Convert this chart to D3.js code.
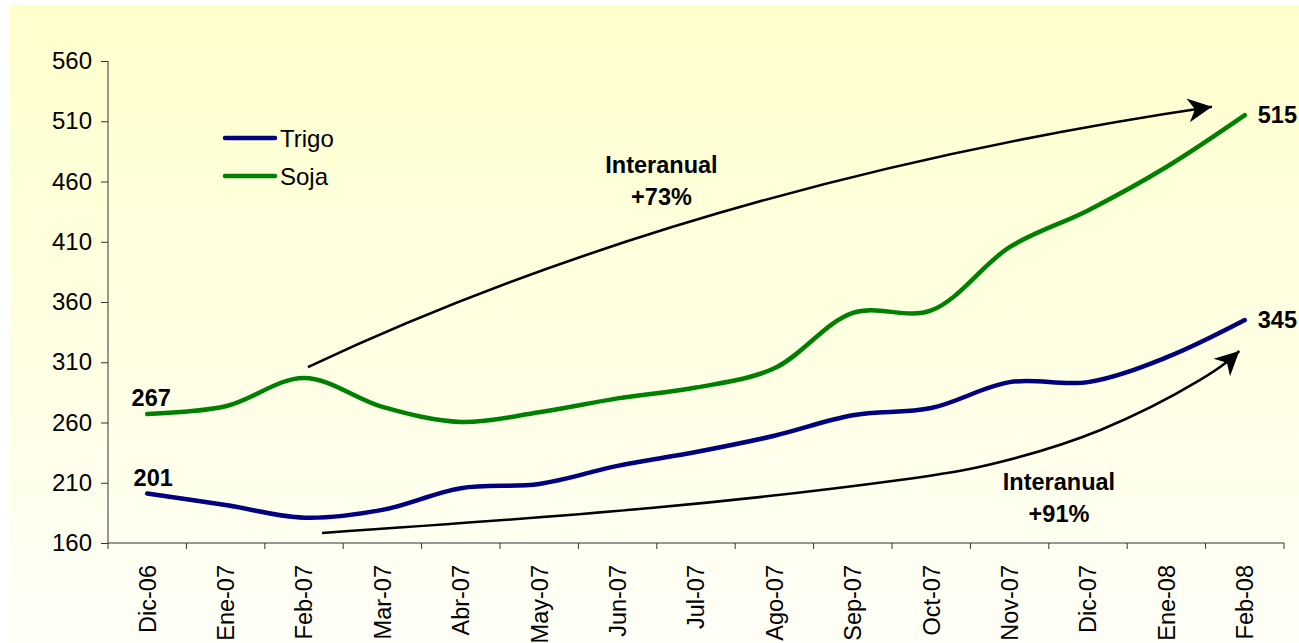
<!DOCTYPE html>
<html>
<head>
<meta charset="utf-8">
<script src="https://cdn.jsdelivr.net/npm/d3@7"></script>
<style>
  html, body { margin: 0; padding: 0; background: #ffffff; }
  svg { display: block; font-family: Arial, "Liberation Sans", sans-serif; }
</style>
</head>
<body>
<svg id="chart" width="1299" height="643"></svg>
<script>
// ---- data ----
const categories = ["Dic-06","Ene-07","Feb-07","Mar-07","Abr-07","May-07","Jun-07","Jul-07","Ago-07","Sep-07","Oct-07","Nov-07","Dic-07","Ene-08","Feb-08"];
const trigo = [201, 191.5, 181, 187.5, 205.5, 209, 224, 235.5, 249, 266, 272, 293.5, 293.5, 314, 345];
const soja  = [267, 273.5, 297, 273, 260.5, 268.5, 280, 289, 305, 351, 353, 405.5, 436, 472, 515];
const yTicks = [160, 210, 260, 310, 360, 410, 460, 510, 560];
const seriesNames = ["Trigo", "Soja"];
const seriesColors = ["#000080", "#008000"];
// annotation arrows in data space: [category index, value]
const arrowUpper = [[2.05, 306], [7.05, 459], [13.58, 522]]; // quadratic: start, control, end
const arrowLower = [[2.23, 168.3], [6.42, 189], [9.6, 212.3], [10.88, 227.2], [12.16, 253.8], [13.43, 295.3], [13.93, 319.3]];
const annotTexts = [
  {lines: ["Interanual", "+73%"], at: 6.56},
  {lines: ["Interanual", "+91%"], at: 11.63}
];

(function () {
// ---- layout ----
const svg = d3.select("#chart");
const mLeft = 108, mRight = 1284, mTop = 61, mBottom = 543;

const defs = svg.append("defs");
const grad = defs.append("linearGradient").attr("id","bg").attr("x1",0).attr("y1",0).attr("x2",0).attr("y2",1);
grad.append("stop").attr("offset","0%").attr("stop-color","#FFFFCC");
grad.append("stop").attr("offset","100%").attr("stop-color","#FFFFF8");

defs.append("marker")
  .attr("id","arrowhead")
  .attr("markerUnits","userSpaceOnUse")
  .attr("viewBox","-24 -13 26 26")
  .attr("markerWidth",26).attr("markerHeight",26)
  .attr("refX",0).attr("refY",0)
  .attr("orient","auto")
  .append("path")
  .attr("d","M0,0 L-24,-12 L-17,0 L-24,12 Z")
  .attr("fill","#000");

svg.append("rect").attr("x",10).attr("y",5).attr("width",1289).attr("height",638).attr("fill","url(#bg)");

const x = d3.scaleBand().domain(categories).range([mLeft, mRight]).paddingInner(0).paddingOuter(0);
const xc = i => x(categories[0]) + x.bandwidth() * (i + 0.5);
const y = d3.scaleLinear().domain([160, 560]).range([mBottom, mTop]);

// axes
const yAxis = d3.axisLeft(y).tickValues(yTicks).tickSize(7).tickPadding(9).tickFormat(d3.format("d"));
const gy = svg.append("g").attr("transform",`translate(${mLeft},0)`).call(yAxis);
gy.select(".domain").attr("stroke","#333").attr("d",`M0,${mTop}V${mBottom}`);
gy.selectAll(".tick line").attr("stroke","#333");
gy.selectAll(".tick text").attr("font-size","24px").attr("fill","#000").attr("font-family","Arial, 'Liberation Sans', sans-serif");

const gx = svg.append("g").attr("transform",`translate(0,${mBottom})`);
gx.append("line").attr("x1",mLeft).attr("x2",mRight).attr("y1",0).attr("y2",0).attr("stroke","#333");
const edges = d3.range(categories.length + 1).map(i => mLeft + i * x.bandwidth());
gx.selectAll("line.tk").data(edges).enter().append("line").attr("class","tk")
  .attr("x1",d=>d).attr("x2",d=>d).attr("y1",0).attr("y2",6).attr("stroke","#333");
gx.selectAll("text.lbl").data(categories).enter().append("text").attr("class","lbl")
  .attr("transform",(d,i)=>`translate(${xc(i)},22) rotate(-90)`)
  .attr("text-anchor","end").attr("dy","0.36em")
  .attr("font-size","23.5px").attr("fill","#000").text(d=>d);

// lines
const line = d3.line().x((d,i)=>xc(i)).y(d=>y(d)).curve(d3.curveCatmullRom.alpha(0.5));
[trigo, soja].forEach((s, k) => {
  svg.append("path").datum(s).attr("d", line).attr("fill","none")
    .attr("stroke", seriesColors[k]).attr("stroke-width",4.5)
    .attr("stroke-linecap","round").attr("stroke-linejoin","round");
});

// data labels
const lastI = categories.length - 1;
function addText(txt, px, py, anchor) {
  svg.append("text").attr("x",px).attr("y",py).attr("text-anchor",anchor)
    .attr("font-weight","bold").attr("font-size","23.5px").attr("fill","#000").text(txt);
}
addText(String(soja[0]), xc(0) + 4, y(soja[0]) - 8, "middle");
addText(String(trigo[0]), xc(0) + 6, y(trigo[0]) - 8, "middle");
addText(String(soja[lastI]), 1297, y(soja[lastI]) + 8, "end");
addText(String(trigo[lastI]), 1297, y(trigo[lastI]) + 8, "end");

// arrows
const pu = arrowUpper.map(([i,v]) => [xc(i), y(v)]);
svg.append("path")
  .attr("d", `M${pu[0][0]},${pu[0][1]} Q${pu[1][0]},${pu[1][1]} ${pu[2][0]},${pu[2][1]}`)
  .attr("fill","none").attr("stroke","#000").attr("stroke-width",2.6)
  .attr("marker-end","url(#arrowhead)");
const arrowLine = d3.line().x(d=>xc(d[0])).y(d=>y(d[1])).curve(d3.curveNatural);
svg.append("path").datum(arrowLower).attr("d", arrowLine)
  .attr("fill","none").attr("stroke","#000").attr("stroke-width",2.6)
  .attr("marker-end","url(#arrowhead)");

// annotation texts
const annY = [[173, 205], [490, 522]];
annotTexts.forEach((a, k) => {
  a.lines.forEach((ln, j) => addText(ln, xc(a.at), annY[k][j], "middle"));
});

// legend
const leg = svg.append("g");
seriesNames.forEach((n, k) => {
  const ly = 138 + k * 38;
  leg.append("line").attr("x1",225).attr("x2",275).attr("y1",ly).attr("y2",ly)
    .attr("stroke", seriesColors[k]).attr("stroke-width",4.5).attr("stroke-linecap","round");
  leg.append("text").attr("x",280).attr("y",ly).attr("dy","0.36em")
    .attr("font-size","24px").attr("fill","#000").text(n);
});
})();
</script>
</body>
</html>
